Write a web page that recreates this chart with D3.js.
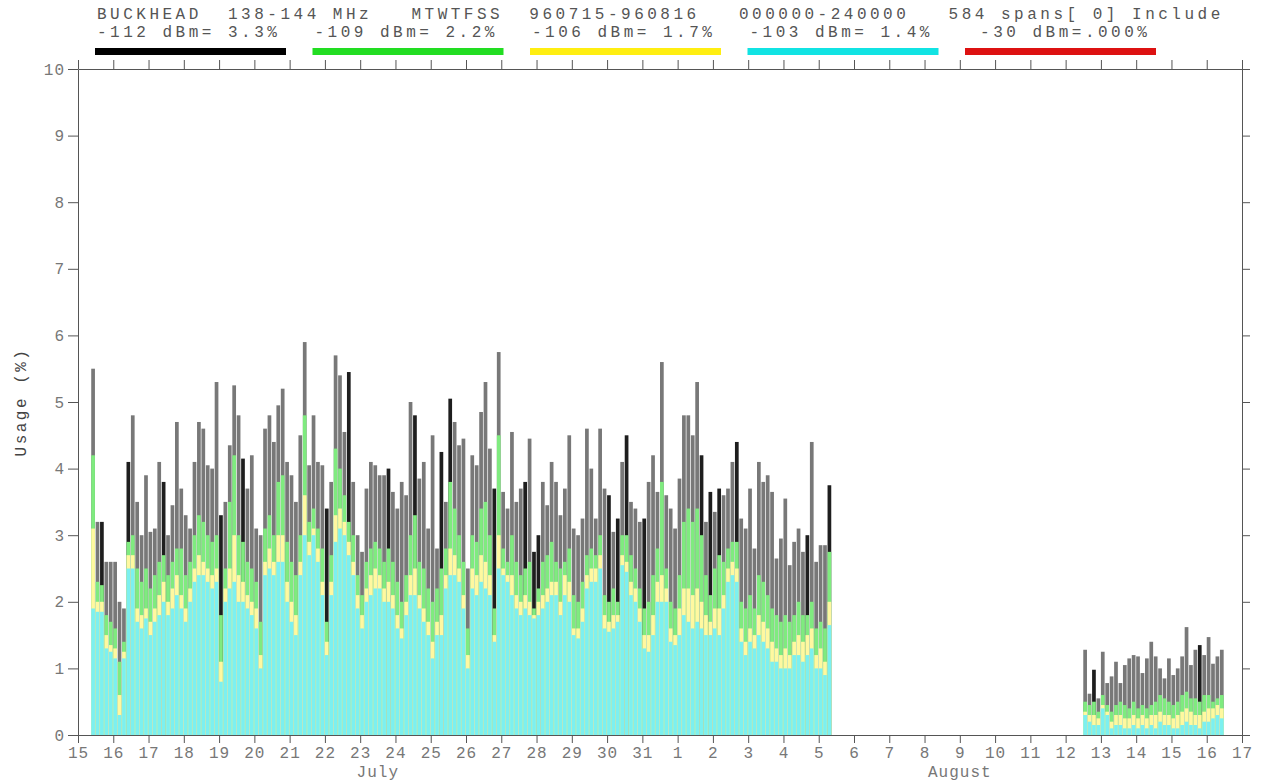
<!DOCTYPE html>
<html>
<head>
<meta charset="utf-8">
<script src="https://cdn.jsdelivr.net/npm/d3@7"></script>
<style>
  body { margin: 0; background: #fff; }
  text { font-family: "Liberation Mono", "DejaVu Sans Mono", monospace; }
</style>
</head>
<body>
<div id="chart"></div>
<script>
// Spans are 3 hours long; two measuring periods
const blockStart = ["1996-07-15T09:00", "1996-08-12T12:00"];
const blockSpans = [168, 32];
const spanHours = 3;

// Usage (%) above each threshold, per span
const dBm112 = [
  5.5,3.2,3.2,2.6,2.6,2.6,2.0,1.9,4.1,4.8,3.5,3.0,3.9,3.05,3.1,4.1,3.8,3.0,3.45,4.7,3.7,3.3,3.1,4.1,4.7,4.6,4.05,4.0,5.3,3.3,3.5,4.35,5.25,
  4.8,4.15,3.7,4.2,3.1,3.0,4.6,4.8,4.4,4.95,5.2,4.1,3.9,3.5,4.5,5.9,4.05,4.8,4.1,4.05,3.4,3.8,5.7,5.4,4.55,5.45,3.8,3.0,2.75,3.7,4.1,4.05,3.9,3.9,
  4.0,3.65,3.4,3.8,3.6,5.0,4.8,3.85,4.1,3.1,4.5,2.8,4.25,3.5,5.05,4.7,4.35,4.45,2.5,4.2,4.05,4.85,5.3,4.3,3.7,5.75,3.65,3.4,4.55,3.5,3.7,3.8,4.45,2.75,
  3.0,3.8,3.45,4.1,3.8,3.3,3.7,4.5,3.1,3.0,3.25,4.6,4.0,3.25,4.6,3.7,3.6,3.05,3.25,4.1,4.5,3.5,3.4,3.2,3.25,3.8,4.2,3.65,5.6,3.6,3.4,3.1,3.85,4.8,
  4.8,4.5,5.3,4.2,3.2,3.65,3.35,3.7,3.6,3.7,4.1,4.4,3.25,3.1,3.7,2.8,4.1,3.8,3.9,3.65,2.65,2.95,3.55,2.55,2.9,3.1,2.75,3.0,4.4,2.6,2.85,2.85,3.75,
  // August 12-16
  1.28,0.62,0.98,0.55,1.25,0.78,0.88,1.1,0.78,1.05,1.15,1.2,1.18,0.93,1.15,1.4,1.18,1.0,0.85,1.15,0.9,1.0,1.18,1.62,1.05,1.28,1.35,1.2,1.47,1.07,1.18,1.28
];
const dBm109 = [
  4.2,2.3,2.25,1.8,1.7,1.6,1.1,1.4,2.9,3.0,2.5,2.3,2.5,2.2,2.4,2.6,2.7,2.4,2.6,2.8,2.8,2.4,2.6,3.0,3.3,3.2,3.0,2.9,3.0,1.8,2.5,3.5,4.2,
  3.0,2.9,2.6,2.5,2.3,1.7,3.1,3.3,3.0,3.8,3.9,2.9,2.6,2.4,3.0,4.8,3.2,3.4,3.1,2.8,1.7,2.7,4.3,4.0,3.6,3.2,3.0,2.4,2.1,2.6,2.8,2.9,2.8,2.6,
  2.8,2.6,2.3,2.0,2.4,3.0,3.3,2.6,2.5,2.2,2.0,2.2,2.5,2.8,3.8,3.4,3.0,2.6,1.6,3.0,2.9,3.4,3.5,3.0,1.9,4.5,2.8,2.6,3.0,2.6,2.4,2.5,2.6,1.9,
  2.2,2.6,2.7,2.9,2.6,2.5,2.6,2.8,2.1,2.0,2.3,2.7,2.8,2.7,3.0,2.1,2.0,2.2,2.0,3.0,3.0,2.7,2.5,2.2,1.9,2.0,2.4,2.8,3.8,2.5,2.0,1.9,2.4,3.2,
  3.4,3.2,3.4,3.0,2.4,2.1,2.5,2.7,2.6,2.8,2.9,2.9,2.0,1.9,2.1,1.9,2.4,2.3,2.1,1.9,1.8,1.7,1.8,1.7,1.8,2.0,1.8,1.8,2.0,1.6,1.7,1.6,2.75,
  0.5,0.45,0.5,0.35,0.6,0.45,0.35,0.45,0.5,0.45,0.4,0.5,0.4,0.45,0.4,0.45,0.5,0.6,0.55,0.5,0.45,0.5,0.6,0.65,0.55,0.55,0.5,0.6,0.6,0.5,0.55,0.6
];
const dBm106 = [
  3.1,2.0,2.0,1.5,1.35,1.3,0.6,1.25,2.7,2.7,1.9,1.8,1.9,1.7,1.9,2.1,2.3,2.0,2.2,2.4,2.1,1.9,2.2,2.5,2.7,2.6,2.5,2.4,2.5,1.1,2.2,2.5,3.0,
  2.4,2.3,2.1,2.0,1.9,1.2,2.6,2.8,2.6,3.0,3.0,2.3,2.0,1.8,2.6,3.6,2.9,3.1,2.8,2.3,1.4,2.3,3.3,3.4,3.2,2.9,2.6,2.1,1.8,2.2,2.4,2.5,2.4,2.2,
  2.3,2.1,1.8,1.6,2.0,2.4,2.5,2.1,1.9,1.7,1.4,1.7,1.8,2.4,2.8,2.7,2.5,2.1,1.2,2.5,2.4,2.7,2.6,2.4,1.5,3.0,2.5,2.4,2.4,2.1,2.0,2.1,2.0,1.8,
  2.0,2.1,2.2,2.3,2.3,2.0,2.4,2.3,1.6,1.6,1.9,2.4,2.5,2.5,2.7,1.8,1.7,1.8,1.8,2.7,2.6,2.3,2.2,1.9,1.5,1.5,1.8,2.3,2.4,2.2,1.6,1.5,1.9,2.2,
  2.2,2.1,2.2,2.0,1.8,1.7,1.9,1.9,2.1,2.5,2.6,2.5,1.6,1.4,1.6,1.5,1.8,1.7,1.6,1.4,1.3,1.2,1.3,1.2,1.4,1.5,1.4,1.5,1.6,1.2,1.3,1.1,2.0,
  0.35,0.3,0.3,0.25,0.45,0.35,0.2,0.3,0.3,0.25,0.25,0.3,0.25,0.3,0.25,0.3,0.3,0.35,0.3,0.3,0.25,0.3,0.35,0.4,0.35,0.3,0.3,0.35,0.4,0.4,0.45,0.4
];
const dBm103 = [
  1.9,1.85,1.85,1.3,1.25,1.15,0.3,1.15,2.5,2.5,1.7,1.6,1.75,1.5,1.7,1.8,2.0,1.8,1.9,2.1,1.9,1.7,2.0,2.3,2.4,2.4,2.3,2.2,2.3,0.8,2.0,2.2,2.3,
  2.0,2.0,1.9,1.8,1.6,1.0,2.4,2.5,2.4,2.6,2.6,2.0,1.7,1.5,2.4,3.0,2.7,3.0,2.6,2.1,1.2,2.1,2.9,3.1,3.0,2.7,2.4,1.9,1.6,2.0,2.1,2.2,2.2,2.0,
  2.0,1.9,1.6,1.45,1.8,2.1,2.1,1.9,1.7,1.5,1.15,1.5,1.5,2.2,2.4,2.4,2.3,1.9,1.0,2.2,2.1,2.3,2.2,2.1,1.4,2.5,2.4,2.3,2.1,1.9,1.8,1.9,1.8,1.75,
  1.8,1.9,2.0,2.1,2.1,1.8,2.1,2.0,1.5,1.45,1.7,2.2,2.3,2.3,2.5,1.6,1.55,1.6,1.7,2.55,2.45,2.1,2.0,1.7,1.3,1.25,1.5,2.0,2.0,2.0,1.4,1.35,1.5,1.8,
  1.7,1.6,1.7,1.6,1.5,1.5,1.6,1.5,1.9,2.3,2.4,2.3,1.4,1.2,1.4,1.3,1.5,1.4,1.3,1.1,1.1,1.0,1.0,1.0,1.2,1.2,1.1,1.2,1.3,1.0,1.0,0.9,1.65,
  0.3,0.2,0.15,0.15,0.4,0.3,0.1,0.15,0.15,0.1,0.1,0.15,0.1,0.15,0.1,0.15,0.1,0.2,0.15,0.15,0.1,0.1,0.15,0.2,0.15,0.15,0.1,0.2,0.2,0.25,0.3,0.25
];
// spans where the -112 dBm part looks solid black
const darkSpans = [2,8,16,29,34,53,58,67,73,79,81,91,98,100,101,117,119,121,125,138,140,142,146,162,167,170,194];

// Legend
const thresholds = [-112, -109, -106, -103, -30];
const percents = ["3.3%", "2.2%", "1.7%", "1.4%", ".000%"];
const colors = ["#000000", "#22dd22", "#ffee11", "#11e3e3", "#dd1111"];
// how much each layer is washed out inside the plot
const washes = [0.47, 0.42, 0.6, 0.45];

const header = "BUCKHEAD  138-144 MHz   MTWTFSS  960715-960816   000000-240000   584 spans[ 0] Include";
const months = [
  { name: "July", from: "1996-07-15", to: "1996-08-01" },
  { name: "August", from: "1996-08-01", to: "1996-08-17" }
];

const total = d3.sum(blockSpans);
[dBm112, dBm109, dBm106, dBm103].forEach((a, i) => {
  if (a.length !== total) throw new Error("series " + i + " has " + a.length + " values");
});

const width = 1262, height = 784;
const margin = { top: 69, right: 20, bottom: 49, left: 78 };

const parseT = d3.utcParse("%Y-%m-%dT%H:%M");
const parseD = d3.utcParse("%Y-%m-%d");

const x = d3.scaleUtc()
  .domain([parseD("1996-07-15"), parseD("1996-08-17")])
  .range([margin.left, width - margin.right]);
const y = d3.scaleLinear()
  .domain([0, 10])
  .range([height - margin.bottom, margin.top]);

// Build the span list
const spans = [];
blockStart.forEach((s, b) => {
  const t0 = parseT(s);
  for (let j = 0; j < blockSpans[b]; j++) {
    spans.push({
      t0: d3.utcHour.offset(t0, j * spanHours),
      t1: d3.utcHour.offset(t0, (j + 1) * spanHours),
      i: spans.length
    });
  }
});

const svg = d3.select("#chart").append("svg")
  .attr("width", width)
  .attr("height", height);

// Layers drawn from the lowest threshold (tallest) to the highest
const layers = [dBm112, dBm109, dBm106, dBm103];

layers.forEach((values, li) => {
  const fill = d3.interpolateRgb(colors[li], "#ffffff")(washes[li]);
  svg.append("g")
    .selectAll("rect")
    .data(spans)
    .join("rect")
    .attr("x", d => x(d.t0))
    .attr("width", d => x(d.t1) - x(d.t0) - 0.7)
    .attr("y", d => y(values[d.i]))
    .attr("height", d => y(0) - y(values[d.i]))
    .attr("fill", d => (li === 0 && darkSpans.includes(d.i)) ? "#1e1e1e" : fill);
});

// Axes
const axisColor = "#555";
const labelColor = "#777";

function styleAxis(g) {
  g.selectAll("path, line").attr("stroke", axisColor);
  g.selectAll("text")
    .attr("fill", labelColor)
    .style("font-size", "16px")
    .style("letter-spacing", "1px")
    .style("font-family", '"Liberation Mono", monospace');
}

svg.append("g")
  .attr("transform", `translate(0,${y(0)})`)
  .call(d3.axisBottom(x).ticks(d3.utcDay.every(1)).tickFormat(d3.utcFormat("%-d"))
    .tickSize(8).tickSizeOuter(0).tickPadding(4))
  .call(styleAxis);

svg.append("g")
  .attr("transform", `translate(0,${y(10)})`)
  .call(d3.axisTop(x).ticks(d3.utcDay.every(1)).tickFormat("")
    .tickSize(9).tickSizeOuter(0))
  .call(styleAxis);

svg.append("g")
  .attr("transform", `translate(${x.range()[0]},0)`)
  .call(d3.axisLeft(y).ticks(10).tickSize(10).tickSizeOuter(0).tickPadding(3))
  .call(styleAxis);

svg.append("g")
  .attr("transform", `translate(${x.range()[1]},0)`)
  .call(d3.axisRight(y).ticks(10).tickFormat("").tickSize(8).tickSizeOuter(0))
  .call(styleAxis);

// Month names
svg.append("g")
  .selectAll("text")
  .data(months)
  .join("text")
  .attr("x", d => (x(parseD(d.from)) + x(parseD(d.to))) / 2)
  .attr("y", 777)
  .attr("text-anchor", "middle")
  .attr("fill", labelColor)
  .style("font-size", "16px")
  .style("letter-spacing", "1px")
  .text(d => d.name);

// Y title
svg.append("text")
  .attr("transform", `translate(26,${(y(0) + y(10)) / 2}) rotate(-90)`)
  .attr("text-anchor", "middle")
  .attr("fill", "#444")
  .style("font-size", "16px")
  .style("letter-spacing", "2.5px")
  .text("Usage (%)");

// Header
svg.append("text")
  .attr("x", 97)
  .attr("y", 18.5)
  .attr("fill", "#555")
  .style("font-size", "16px")
  .style("letter-spacing", "3.5px")
  .style("white-space", "pre")
  .text(header);

// Legend
const legendX = d3.scalePoint()
  .domain(d3.range(thresholds.length))
  .range([95, 965]);

const legend = svg.append("g")
  .selectAll("g")
  .data(thresholds)
  .join("g");

legend.append("text")
  .attr("x", (d, i) => legendX(i) + 2)
  .attr("y", 37)
  .attr("fill", "#555")
  .style("font-size", "16px")
  .style("letter-spacing", "3.5px")
  .style("white-space", "pre")
  .text((d, i) => `${String(d).padStart(4)} dBm=${percents[i].padStart(5)}`);

legend.append("rect")
  .attr("x", (d, i) => legendX(i))
  .attr("y", 48)
  .attr("width", 191)
  .attr("height", 7)
  .attr("fill", (d, i) => colors[i]);
</script>
</body>
</html>
